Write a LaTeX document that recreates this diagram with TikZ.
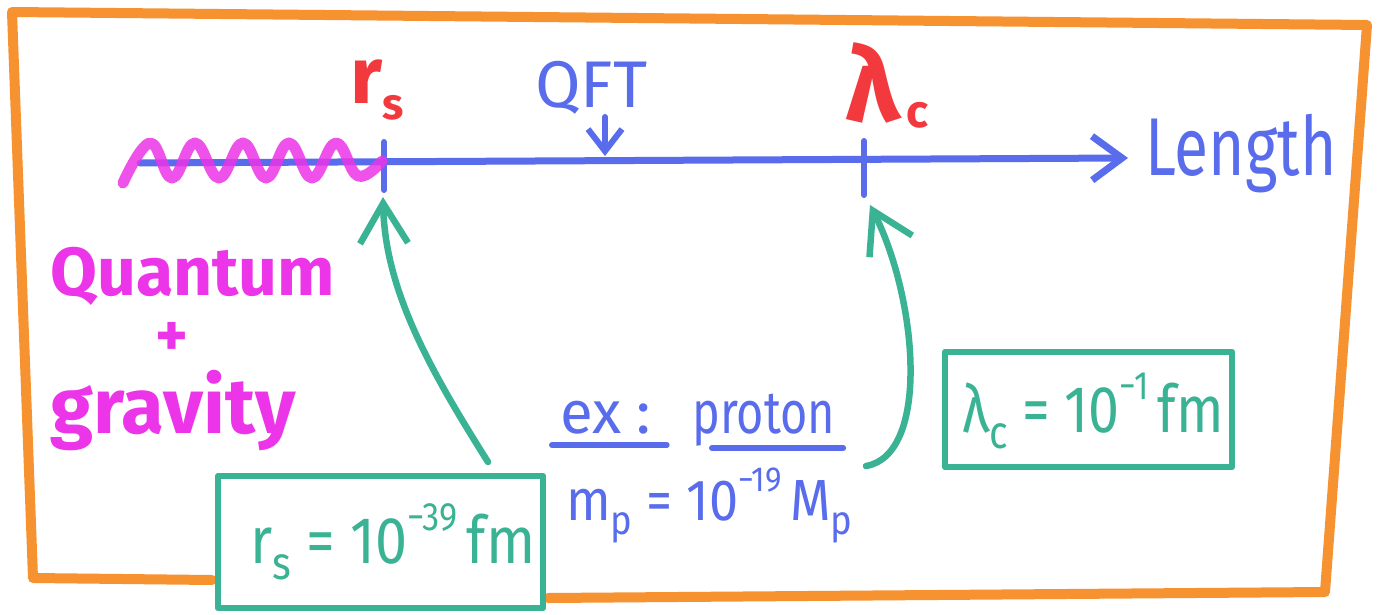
\documentclass[tikz,border=0pt]{standalone}
\usepackage{fontspec}
\usepackage{graphicx}
\setmainfont{Fira Sans}
\usetikzlibrary{arrows.meta}
\definecolor{orangeF}{RGB}{246,146,48}
\definecolor{blueF}{RGB}{88,108,236}
\definecolor{magF}{RGB}{236,52,232}
\definecolor{redF}{RGB}{242,58,62}
\definecolor{greenF}{RGB}{58,178,148}
\newcommand{\fsz}[1]{\fontsize{#1}{#1}\selectfont}
\newcommand{\lo}[1]{\raisebox{-0.25em}{\scalebox{0.7}{#1}}}
\newcommand{\hi}[1]{\raisebox{0.5em}{\scalebox{0.6}{#1}}}
\newcommand{\narrow}[2]{\scalebox{#1}[1]{#2}}
\begin{document}
\begin{tikzpicture}[x=1pt,y=-1pt, line cap=round, line join=round,
  frame/.style={draw=orangeF, line width=10pt},
  axisline/.style={draw=blueF, line width=7pt},
  gline/.style={draw=greenF, line width=6.5pt},
  garrow/.style={gline, -{Straight Barb[length=40pt,width=48pt]}},
  gbox/.style={draw=greenF, line width=6.5pt, inner sep=0pt},
  lbl/.style={inner sep=0pt, anchor=base west},
]
\fill[white] (0,0) rectangle (1378,615);
\useasboundingbox (0,0) rectangle (1378,615);

% frame
\draw[frame] (212,580) -- (33,578) -- (12,12) -- (1367,25) -- (1325,592) -- (548,598);

% axis
\coordinate (axL) at (140,163);
\coordinate (axR) at (1128,158);
\draw[axisline, -{Straight Barb[length=30pt,width=44pt]}] (axL) -- (axR);
\coordinate (rsT) at (384,142); \coordinate (rsB) at (384,190);
\coordinate (lcT) at (864,141); \coordinate (lcB) at (864,195);
\draw[axisline, line width=6pt] (rsT) -- (rsB);
\draw[axisline, line width=6pt] (lcT) -- (lcB);

% wave
\draw[magF, line width=11pt, opacity=0.85] plot[smooth, tension=0.7] coordinates {(123,183) (150,143) (172,178) (195,143) (219,178) (243,143) (266,178) (289,143) (312,178) (336,143) (358,176) (382,161)};

% labels on axis
\node[lbl, text=redF, font=\fsz{80}\bfseries] (rs) at (350,104) {r\raisebox{-0.2em}{\fsz{44}s}};
\node[lbl, text=redF, font=\fsz{104}\bfseries] (lc) at (845,122) {λ\hspace{6pt}\raisebox{-0.05em}{\fsz{46}c}};
\node[lbl, text=blueF, font=\fsz{66}] (qft) at (535,108) {QFT};
\coordinate (qftA) at (605,117); \coordinate (qftB) at (605,156);
\draw[blueF, line width=6pt, -{Straight Barb[length=22pt,width=34pt]}] (qftA) -- (qftB);
\node[lbl, text=blueF, font=\fsz{82}] (len) at (1145,175) {\narrow{0.76}{Length}};

% quantum + gravity
\node[lbl, text=magF, font=\fsz{68}\bfseries] (quantum) at (50,295) {Quantum};
\node[lbl, text=magF, font=\fsz{62}\bfseries] (plus) at (155,356) {+};
\node[lbl, text=magF, font=\fsz{78}\bfseries] (gravity) at (50,433) {gravity};

% example
\node[lbl, text=blueF, font=\fsz{60}] (ex) at (560,433) {ex};
\node[lbl, text=blueF, font=\fsz{60}] (colon) at (636,433) {:};
\node[lbl, text=blueF, font=\fsz{60}] (proton) at (692,433) {\narrow{0.78}{proton}};
\draw[blueF, line width=6pt] ([xshift=-8pt,yshift=-12pt]ex.base west) -- ([xshift=45pt,yshift=-12pt]ex.base east);
\draw[blueF, line width=6pt] ([xshift=20pt,yshift=-15pt]proton.base west) -- ([xshift=8pt,yshift=-15pt]proton.base east);
\node[lbl, text=blueF, font=\fsz{58}] (mp) at (566,520) {\narrow{0.9}{m\lo{p} = 10\hi{−19}\,M\lo{p}}};

% boxes
\node[gbox, minimum width=325pt, minimum height=132pt] (box1) at (380.5,542) {};
\node[lbl, text=greenF, font=\fsz{66}] (rsval) at (250,563) {\narrow{0.87}{r\lo{s} = 10\hi{−39}\,fm}};
\node[gbox, minimum width=287pt, minimum height=115pt] (box2) at (1088.5,409.5) {};
\node[lbl, text=greenF, font=\fsz{66}] (lcval) at (962,432) {\narrow{0.84}{λ\lo{c} = 10\hi{−1}\,fm}};

% arrows
\coordinate (a1s) at (488,462); \coordinate (a1e) at (383,197);
\draw[garrow] (a1s) .. controls (430,370) and (385,290) .. (a1e);
\coordinate (a2s) at (866,466); \coordinate (a2e) at (870,205);
\draw[garrow] (a2s) .. controls (930,455) and (918,300) .. (a2e);
\end{tikzpicture}
\end{document}
